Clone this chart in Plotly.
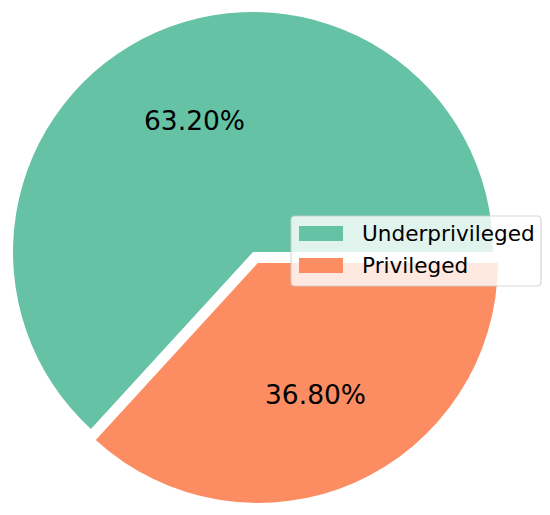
import math
import re
import plotly.graph_objects as go

# ---- data ----
labels = ["Underprivileged", "Privileged"]
values = [63.2, 36.8]
colors = ["#66c2a5", "#fc8d62"]
pulls = [0.0, 0.05]

W, H = 550, 515
# pie box in pixels (square) -> domain
box_left, box_top, box_size = 1, 0, 504
dom_x = [box_left / W, (box_left + box_size) / W]
dom_y = [1 - (box_top + box_size) / H, 1 - box_top / H]

total = sum(values)
# first slice starts at 3 o'clock, going counterclockwise (matplotlib default)
rotation = 450 - 360 * values[0] / total

fig = go.Figure()
fig.add_trace(go.Pie(
    labels=labels,
    values=values,
    marker=dict(colors=colors, line=dict(width=0)),
    pull=pulls,
    sort=False,
    direction="counterclockwise",
    rotation=rotation,
    textinfo="none",
    hoverinfo="label+percent",
    showlegend=False,
    domain=dict(x=dom_x, y=dom_y),
))

# percentage labels at 0.6 radius (computed from the data)
cx = box_left + box_size / 2
cy = box_top + box_size / 2
R = box_size / (2 + 2 * max(pulls))
start = 0.0
for lab, v, p in zip(labels, values, pulls):
    frac = v / total
    mid = math.radians(360 * (start + frac / 2))
    dist = 0.6 * R + p * R
    px = cx + dist * math.cos(mid)
    py = cy - dist * math.sin(mid)
    fig.add_annotation(
        x=px / W, y=1 - py / H, xref="paper", yref="paper",
        text=f"{frac * 100:.2f}%", showarrow=False,
        font=dict(family="DejaVu Sans", size=26.5, color="black"),
        xanchor="center", yanchor="middle",
    )
    start += frac

# legend (drawn matplotlib-style)
lx0, ly0, lx1, ly1 = 291, 216, 541, 286
rr = 4
path = (f"M{lx0+rr},{ly0} L{lx1-rr},{ly0} Q{lx1},{ly0} {lx1},{ly0+rr} "
        f"L{lx1},{ly1-rr} Q{lx1},{ly1} {lx1-rr},{ly1} L{lx0+rr},{ly1} "
        f"Q{lx0},{ly1} {lx0},{ly1-rr} L{lx0},{ly0+rr} Q{lx0},{ly0} {lx0+rr},{ly0} Z")


def to_paper_path(pth):
    def repl(m):
        x = float(m.group(1)); y = float(m.group(2))
        return f"{x / W:.5f},{1 - y / H:.5f}"
    return re.sub(r"(-?\d+\.?\d*),(-?\d+\.?\d*)", repl, pth)


fig.add_shape(type="path", xref="paper", yref="paper", path=to_paper_path(path),
              fillcolor="rgba(255,255,255,0.8)", line=dict(color="rgba(204,204,204,0.8)", width=1.2),
              layer="above")
row_y = [233.5, 265.5]
for lab, col, yy in zip(labels, colors, row_y):
    fig.add_shape(type="rect", xref="paper", yref="paper",
                  x0=299 / W, x1=343 / W, y0=1 - (yy - 7.5) / H, y1=1 - (yy + 7.5) / H,
                  fillcolor=col, line=dict(width=0), layer="above")
    fig.add_annotation(x=360 / W, y=1 - yy / H, xref="paper", yref="paper",
                       text=lab, showarrow=False, xanchor="left", yanchor="middle",
                       font=dict(family="DejaVu Sans", size=21.6, color="black"))

fig.update_layout(
    width=W, height=H,
    margin=dict(l=0, r=0, t=0, b=0),
    paper_bgcolor="white", plot_bgcolor="white",
)
fig.write_html("out.html", config={"displayModeBar": False},
               post_script="document.body.style.margin='0px';")
